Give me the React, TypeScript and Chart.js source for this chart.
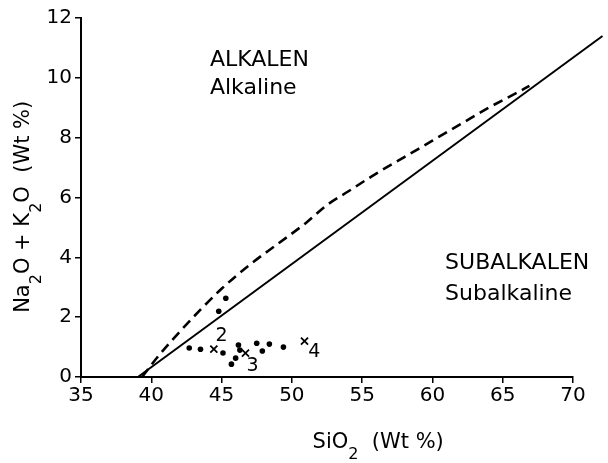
import React, { useEffect, useRef } from 'react';
import { Chart, registerables } from 'chart.js';

Chart.register(...registerables);

// ---- data ----
const xTicks = [35, 40, 45, 50, 55, 60, 65, 70];
const yTicks = [0, 2, 4, 6, 8, 10, 12];

// solid dividing line
const solidX = [39.05, 72.1];
const solidY = [0, 11.4];

// dashed dividing curve
const dashedX = [39.34, 40.5, 42.0, 43.5, 45.0, 47.0, 49.0, 51.0, 52.5, 54.0, 56.0, 58.0, 60.0, 62.0, 64.0, 66.0, 66.9];
const dashedY = [0, 0.7, 1.5, 2.25, 2.95, 3.75, 4.45, 5.15, 5.75, 6.2, 6.8, 7.35, 7.9, 8.45, 9.0, 9.5, 9.73];

// sample dots
const dotX = [45.3, 44.8, 42.7, 43.5, 45.1, 45.7, 46.2, 46.3, 46.0, 47.5, 47.9, 48.4, 49.4];
const dotY = [2.63, 2.2, 0.97, 0.93, 0.8, 0.43, 1.07, 0.9, 0.63, 1.13, 0.87, 1.1, 1.0];

// numbered samples (crosses)
const crossX = [44.45, 46.7, 50.9];
const crossY = [0.93, 0.8, 1.2];
const crossNames = ['2', '3', '4'];
const crossLabelX = [45.0, 47.2, 51.6];
const crossLabelY = [1.37, 0.37, 0.83];

// region labels
const regionTexts = ['ALKALEN', 'Alkaline', 'SUBALKALEN', 'Subalkaline'];
const regionX = [44.17, 44.17, 60.9, 60.9];
const regionY = [10.4, 9.47, 3.6, 2.57];

const FONT = "'DejaVu Sans', 'Liberation Sans', sans-serif";

type Part = { t: string; sub?: boolean };
const xTitle: Part[] = [{ t: 'SiO' }, { t: '2', sub: true }, { t: '  (Wt %)' }];
const yTitle: Part[] = [
  { t: 'Na' }, { t: '2', sub: true }, { t: 'O + K' }, { t: '2', sub: true }, { t: 'O  (Wt %)' },
];

function drawRich(ctx: CanvasRenderingContext2D, parts: Part[], cx: number, baseY: number, size: number, subSize: number, subDrop: number) {
  const mainFont = `${size}px ${FONT}`;
  const subFont = `${subSize}px ${FONT}`;
  let w = 0;
  parts.forEach((p) => {
    ctx.font = p.sub ? subFont : mainFont;
    w += ctx.measureText(p.t).width;
  });
  let x0 = cx - w / 2;
  ctx.textAlign = 'left';
  ctx.textBaseline = 'alphabetic';
  parts.forEach((p) => {
    ctx.font = p.sub ? subFont : mainFont;
    ctx.fillText(p.t, x0, baseY + (p.sub ? subDrop : 0));
    x0 += ctx.measureText(p.t).width;
  });
}

const textPlugin = {
  id: 'textPlugin',
  afterDraw(chart: any) {
    const { ctx, chartArea, scales } = chart;
    const xs = scales.x;
    const ys = scales.y;
    ctx.save();
    ctx.fillStyle = '#000';
    ctx.font = `22px ${FONT}`;
    ctx.textAlign = 'left';
    ctx.textBaseline = 'alphabetic';
    regionTexts.forEach((t, i) => {
      ctx.fillText(t, xs.getPixelForValue(regionX[i]), ys.getPixelForValue(regionY[i]));
    });
    ctx.font = `19px ${FONT}`;
    ctx.textAlign = 'center';
    ctx.textBaseline = 'middle';
    crossNames.forEach((t, i) => {
      ctx.fillText(t, xs.getPixelForValue(crossLabelX[i]), ys.getPixelForValue(crossLabelY[i]));
    });
    const w = chartArea.right - chartArea.left;
    drawRich(ctx, xTitle, chartArea.left + 0.604 * w, chartArea.bottom + 71, 21, 16, 11);
    const h = chartArea.bottom - chartArea.top;
    ctx.translate(29, chartArea.top + 0.526 * h);
    ctx.rotate(-Math.PI / 2);
    drawRich(ctx, yTitle, 0, 0, 21, 16, 12);
    ctx.restore();
  },
};

export default function App() {
  const ref = useRef<HTMLCanvasElement | null>(null);
  useEffect(() => {
    if (!ref.current) return;
    const chart = new Chart(ref.current, {
      type: 'scatter',
      data: {
        datasets: [
          {
            data: solidX.map((x, i) => ({ x, y: solidY[i] })),
            showLine: true,
            borderColor: '#000',
            borderWidth: 2,
            pointRadius: 0,
            clip: false as any,
          },
          {
            data: dashedX.map((x, i) => ({ x, y: dashedY[i] })),
            showLine: true,
            borderColor: '#000',
            borderWidth: 2.6,
            borderDash: [10, 6],
            pointRadius: 0,
            cubicInterpolationMode: 'monotone',
          },
          {
            data: dotX.map((x, i) => ({ x, y: dotY[i] })),
            pointRadius: 2.8,
            pointBackgroundColor: '#000',
            pointBorderColor: '#000',
            pointBorderWidth: 0,
          },
          {
            data: crossX.map((x, i) => ({ x, y: crossY[i] })),
            pointStyle: 'crossRot',
            pointRadius: 5,
            pointBorderColor: '#000',
            pointBorderWidth: 1.8,
          },
        ],
      },
      options: {
        animation: false,
        responsive: false,
        maintainAspectRatio: false,
        layout: { padding: { left: 0, top: 18, right: 35, bottom: 0 } },
        plugins: { legend: { display: false }, tooltip: { enabled: false } },
        scales: {
          x: {
            type: 'linear',
            min: xTicks[0],
            max: xTicks[xTicks.length - 1],
            afterBuildTicks: (s: any) => { s.ticks = xTicks.map((v) => ({ value: v })); },
            afterFit: (s: any) => { s.height = 86; },
            ticks: { color: '#000', font: { family: FONT, size: 20 }, padding: 1 },
            grid: { drawOnChartArea: false, color: '#000', lineWidth: 1.5, tickLength: 6 },
            border: { display: true, color: '#000', width: 2 },
          },
          y: {
            type: 'linear',
            min: yTicks[0],
            max: yTicks[yTicks.length - 1],
            afterBuildTicks: (s: any) => { s.ticks = yTicks.map((v) => ({ value: v })); },
            afterFit: (s: any) => { s.width = 81; },
            ticks: { color: '#000', font: { family: FONT, size: 20 }, padding: 3 },
            grid: { drawOnChartArea: false, color: '#000', lineWidth: 1.5, tickLength: 6 },
            border: { display: true, color: '#000', width: 2 },
          },
        },
      },
      plugins: [textPlugin],
    } as any);
    return () => chart.destroy();
  }, []);
  return (
    <div style={{ position: 'fixed', left: 0, top: 0, width: 608, height: 463, background: '#fff' }}>
      <canvas ref={ref} width={608} height={463} style={{ width: 608, height: 463, display: 'block' }} />
    </div>
  );
}
